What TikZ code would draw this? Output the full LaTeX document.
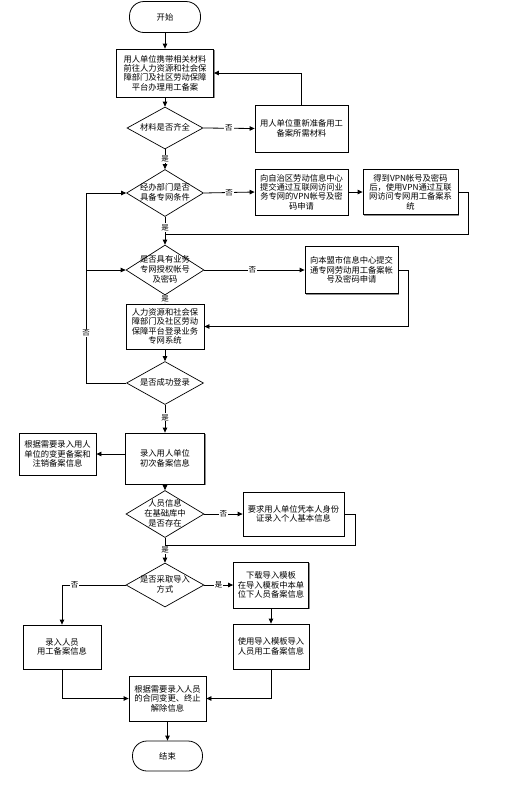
\documentclass[tikz,border=0pt]{standalone}
\usepackage{fontspec}
\newfontfamily\cjk{Noto Sans CJK SC}
\usetikzlibrary{arrows.meta,shadows,shapes.geometric,calc}
\newcommand\dtxt[1]{\makebox[0pt]{\raisebox{-2.5pt}[0pt][0pt]{$\vcenter{\hbox{\begin{tabular}{@{}c@{}}#1\end{tabular}}}$}}}
\begin{document}
\begin{tikzpicture}[x=1pt,y=-1pt,
 box/.style={draw, line width=0.8pt, rectangle, align=center, inner sep=0pt, fill=white,
   font=\cjk\fontsize{8.3}{9.4}\selectfont,
   drop shadow={shadow xshift=1.3pt, shadow yshift=-1.3pt, fill=black!45, opacity=1}},
 term/.style={draw, line width=0.8pt, rectangle, rounded corners=14.5pt, inner sep=0pt,
   font=\cjk\fontsize{8.3}{9.4}\selectfont},
 dia/.style={draw, line width=0.7pt, diamond, inner sep=0pt, fill=white,
   font=\cjk\fontsize{8.3}{9.4}\selectfont},
 arr/.style={line width=0.8pt, -{Triangle[length=5pt,width=4.5pt]}},
 con/.style={line width=0.8pt},
 lbl/.style={fill=white, inner sep=0.8pt, font=\cjk\fontsize{7.5}{8}\selectfont}]
\useasboundingbox (0,0) rectangle (505,796);

% nodes
\node[term, minimum width=71pt, minimum height=31pt] (start) at (165,17) {开始};
\node[box, minimum width=97pt, minimum height=48pt] (b1) at (165,73)
  {用人单位携带相关材料\\前往人力资源和社会保\\障部门及社区劳动保障\\平台办理用工备案};
\node[dia, minimum width=76pt, minimum height=42pt] (d1) at (165,128) {\dtxt{材料是否齐全}};
\node[box, minimum width=93pt, minimum height=47pt] (redo) at (301.5,128.5)
  {用人单位重新准备用工\\备案所需材料};
\node[dia, minimum width=77pt, minimum height=47pt] (d2) at (165,193) {\dtxt{经办部门是否\\具备专网条件}};
\node[box, minimum width=93pt, minimum height=46pt] (vpn1) at (301.5,192)
  {向自治区劳动信息中心\\提交通过互联网访问业\\务专网的VPN帐号及密\\码申请};
\node[box, minimum width=95pt, minimum height=45pt] (vpn2) at (410.5,192)
  {得到VPN帐号及密码\\后，使用VPN通过互联\\网访问专网用工备案系\\统};
\node[dia, minimum width=78pt, minimum height=50pt] (d3) at (165,270) {\dtxt{是否具有业务\\专网授权帐号\\及密码}};
\node[box, minimum width=93pt, minimum height=47pt] (apply) at (351.5,270)
  {向本盟市信息中心提交\\通专网劳动用工备案帐\\号及密码申请};
\node[box, minimum width=78pt, minimum height=45pt] (login) at (165,326.5)
  {人力资源和社会保\\障部门及社区劳动\\保障平台登录业务\\专网系统};
\node[dia, minimum width=77pt, minimum height=43pt] (d4) at (165,383) {\dtxt{是否成功登录}};
\node[box, minimum width=79pt, minimum height=51pt] (first) at (165,458.5)
  {录入用人单位\\初次备案信息};
\node[box, minimum width=77pt, minimum height=42pt] (change) at (57.5,454)
  {根据需要录入用人\\单位的变更备案和\\注销备案信息};
\node[dia, minimum width=78pt, minimum height=47pt] (d5) at (165,514) {\dtxt{人员信息\\在基础库中\\是否存在}};
\node[box, minimum width=101pt, minimum height=44pt] (idbox) at (293.5,514)
  {要求用人单位凭本人身份\\证录入个人基本信息};
\node[dia, minimum width=78pt, minimum height=44pt] (d6) at (165,585) {\dtxt{是否采取导入\\方式}};
\node[box, minimum width=75pt, minimum height=46pt] (dl) at (271,585)
  {下载导入模板\\在导入模板中本单\\位下人员备案信息};
\node[box, minimum width=76pt, minimum height=45pt] (imp) at (271,646.5)
  {使用导入模板导入\\人员用工备案信息};
\node[box, minimum width=78pt, minimum height=44pt] (manual) at (62,647)
  {录入人员\\用工备案信息};
\node[box, minimum width=77pt, minimum height=45pt] (final) at (167.5,698.5)
  {根据需要录入人员\\的合同变更、终止\\解除信息};
\node[term, minimum width=70pt, minimum height=30pt] (end) at (167.5,756) {结束};

\coordinate (c1) at (468,234);
\coordinate (c2) at (408,326.5);
\coordinate (c4) at (86,193);
\coordinate (c5) at (86,270);
\coordinate (c6) at (355,545);

% connectors
\draw[arr] (start) -- (b1);
\draw[arr] (b1) -- (d1);
\draw[arr] (d1.east) -- node[lbl]{否} (redo.west);
\draw[arr] (redo.north) |- (b1.east);
\draw[arr] (d1.south) -- node[lbl]{是} (d2.north);
\draw[arr] (d2.east) -- node[lbl]{否} (vpn1.west);
\draw[arr] (vpn1) -- (vpn2);
\draw[con] (vpn2.east) -| (c1) -- (d3.north |- c1);
\draw[arr] (d2.south) -- node[lbl, pos=0.38]{是} (d3.north);
\draw[arr] (d3.east) -- node[lbl, pos=0.48]{否} (apply.west);
\draw[arr] (apply.east) -| (c2) -- (login.east);
\draw[arr] (d3.south) -- node[lbl, pos=0.45]{是} (login.north);
\draw[arr] (login) -- (d4);
\draw[arr] (d4.west) -| (c4) -- (d2.west);
\node[lbl] (nolbl) at (86,333) {否};
\draw[arr] (c5) -- (d3.west);
\draw[arr] (d4.south) -- node[lbl, pos=0.45]{是} (first.north);
\draw[arr] (first.west |- change.east) -- (change.east);
\draw[arr] (first) -- (d5);
\draw[arr] (d5.east) -- node[lbl]{否} (idbox.west);
\draw[con] (idbox.east) -| (c6) -- (d5.south |- c6);
\draw[arr] (d5.south) -- node[lbl, pos=0.5]{是} (d6.north);
\draw[arr] (d6.west) -| node[lbl, pos=0.4]{否} (manual.north);
\draw[arr] (d6.east) -- node[lbl]{是} (dl.west);
\draw[arr] (dl) -- (imp);
\draw[arr] (manual.south) |- (final.west);
\draw[arr] (imp.south) |- (final.east);
\draw[arr] (final) -- (end);
\end{tikzpicture}
\end{document}
